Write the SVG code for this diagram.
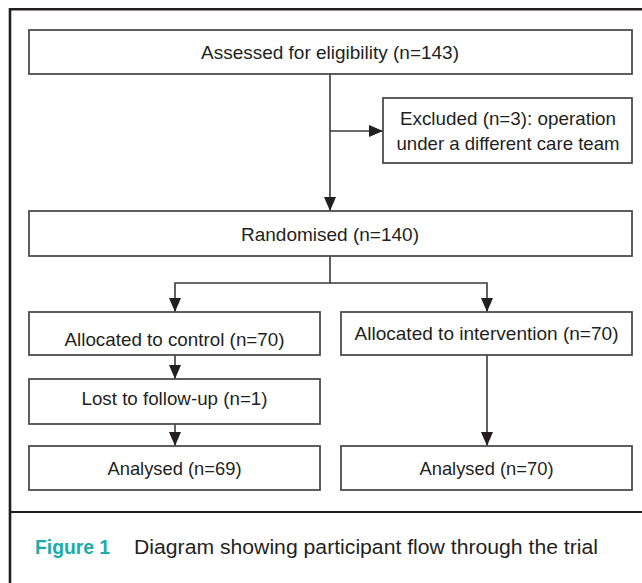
<svg xmlns="http://www.w3.org/2000/svg" width="642" height="583" viewBox="0 0 642 583">
<defs>
<marker id="ah" markerUnits="userSpaceOnUse" markerWidth="14" markerHeight="14" viewBox="0 0 14 12" refX="14" refY="6" orient="auto">
<path d="M0,0 L14,6 L0,12 Z" fill="#231f20"/>
</marker>
</defs>
<style>
.box{fill:#fff;stroke:#4d4d4d;stroke-width:1.8}
.t{font-family:"Liberation Sans",Arial,sans-serif;font-size:18.5px;fill:#231f20;text-anchor:middle}
.c{fill:none;stroke:#3a3a3a;stroke-width:1.6}
.frame{fill:none;stroke:#231f20;stroke-width:2.6}
.cap{font-family:"Liberation Sans",Arial,sans-serif;font-size:20.5px;fill:#231f20}
.fig{font-family:"Liberation Sans",Arial,sans-serif;font-size:20.5px;font-weight:bold;fill:#1aaca8}
</style>
<rect width="642" height="583" fill="#fff"/>
<g id="frame">
<path class="frame" d="M10,583 V9.3 H642"/>
<line x1="10" y1="512" x2="642" y2="512" stroke="#231f20" stroke-width="2.2"/>
</g>
<g id="connectors">
<line class="c" x1="330" y1="74" x2="330" y2="211" marker-end="url(#ah)"/>
<line class="c" x1="330" y1="131" x2="383" y2="131" marker-end="url(#ah)"/>
<polyline class="c" points="330,256 330,283 175,283 175,312" marker-end="url(#ah)"/>
<polyline class="c" points="330,283 487,283 487,312" marker-end="url(#ah)"/>
<line class="c" x1="175" y1="355" x2="175" y2="379" marker-end="url(#ah)"/>
<line class="c" x1="175" y1="424" x2="175" y2="446" marker-end="url(#ah)"/>
<line class="c" x1="487" y1="355" x2="487" y2="446" marker-end="url(#ah)"/>
</g>
<g id="assessed">
<rect class="box" x="29" y="30" width="603" height="44"/>
<text class="t" x="330" y="58.5" textLength="258" lengthAdjust="spacingAndGlyphs">Assessed for eligibility (n=143)</text>
</g>
<g id="excluded">
<rect class="box" x="383" y="98" width="249" height="65"/>
<text class="t" x="508" y="124.5" textLength="216" lengthAdjust="spacingAndGlyphs">Excluded (n=3): operation</text>
<text class="t" x="508" y="149.5" textLength="223" lengthAdjust="spacingAndGlyphs">under a different care team</text>
</g>
<g id="randomised">
<rect class="box" x="29" y="211" width="603" height="45"/>
<text class="t" x="330" y="240.5" textLength="178" lengthAdjust="spacingAndGlyphs">Randomised (n=140)</text>
</g>
<g id="control">
<rect class="box" x="29" y="312" width="291" height="43"/>
<text class="t" x="174.5" y="345.5" textLength="220" lengthAdjust="spacingAndGlyphs">Allocated to control (n=70)</text>
</g>
<g id="intervention">
<rect class="box" x="341" y="312" width="291" height="43"/>
<text class="t" x="486.5" y="339.5" textLength="264" lengthAdjust="spacingAndGlyphs">Allocated to intervention (n=70)</text>
</g>
<g id="lost">
<rect class="box" x="29" y="379" width="291" height="45"/>
<text class="t" x="174.5" y="404.5" textLength="186" lengthAdjust="spacingAndGlyphs">Lost to follow-up (n=1)</text>
</g>
<g id="analysed-control">
<rect class="box" x="29" y="446" width="291" height="44"/>
<text class="t" x="174.5" y="474.5" textLength="134" lengthAdjust="spacingAndGlyphs">Analysed (n=69)</text>
</g>
<g id="analysed-intervention">
<rect class="box" x="341" y="446" width="291" height="44"/>
<text class="t" x="486.5" y="474.5" textLength="134" lengthAdjust="spacingAndGlyphs">Analysed (n=70)</text>
</g>
<g id="caption">
<text class="fig" x="35" y="554" textLength="75" lengthAdjust="spacingAndGlyphs">Figure 1</text>
<text class="cap" x="134" y="554" textLength="464" lengthAdjust="spacingAndGlyphs">Diagram showing participant flow through the trial</text>
</g>
</svg>
